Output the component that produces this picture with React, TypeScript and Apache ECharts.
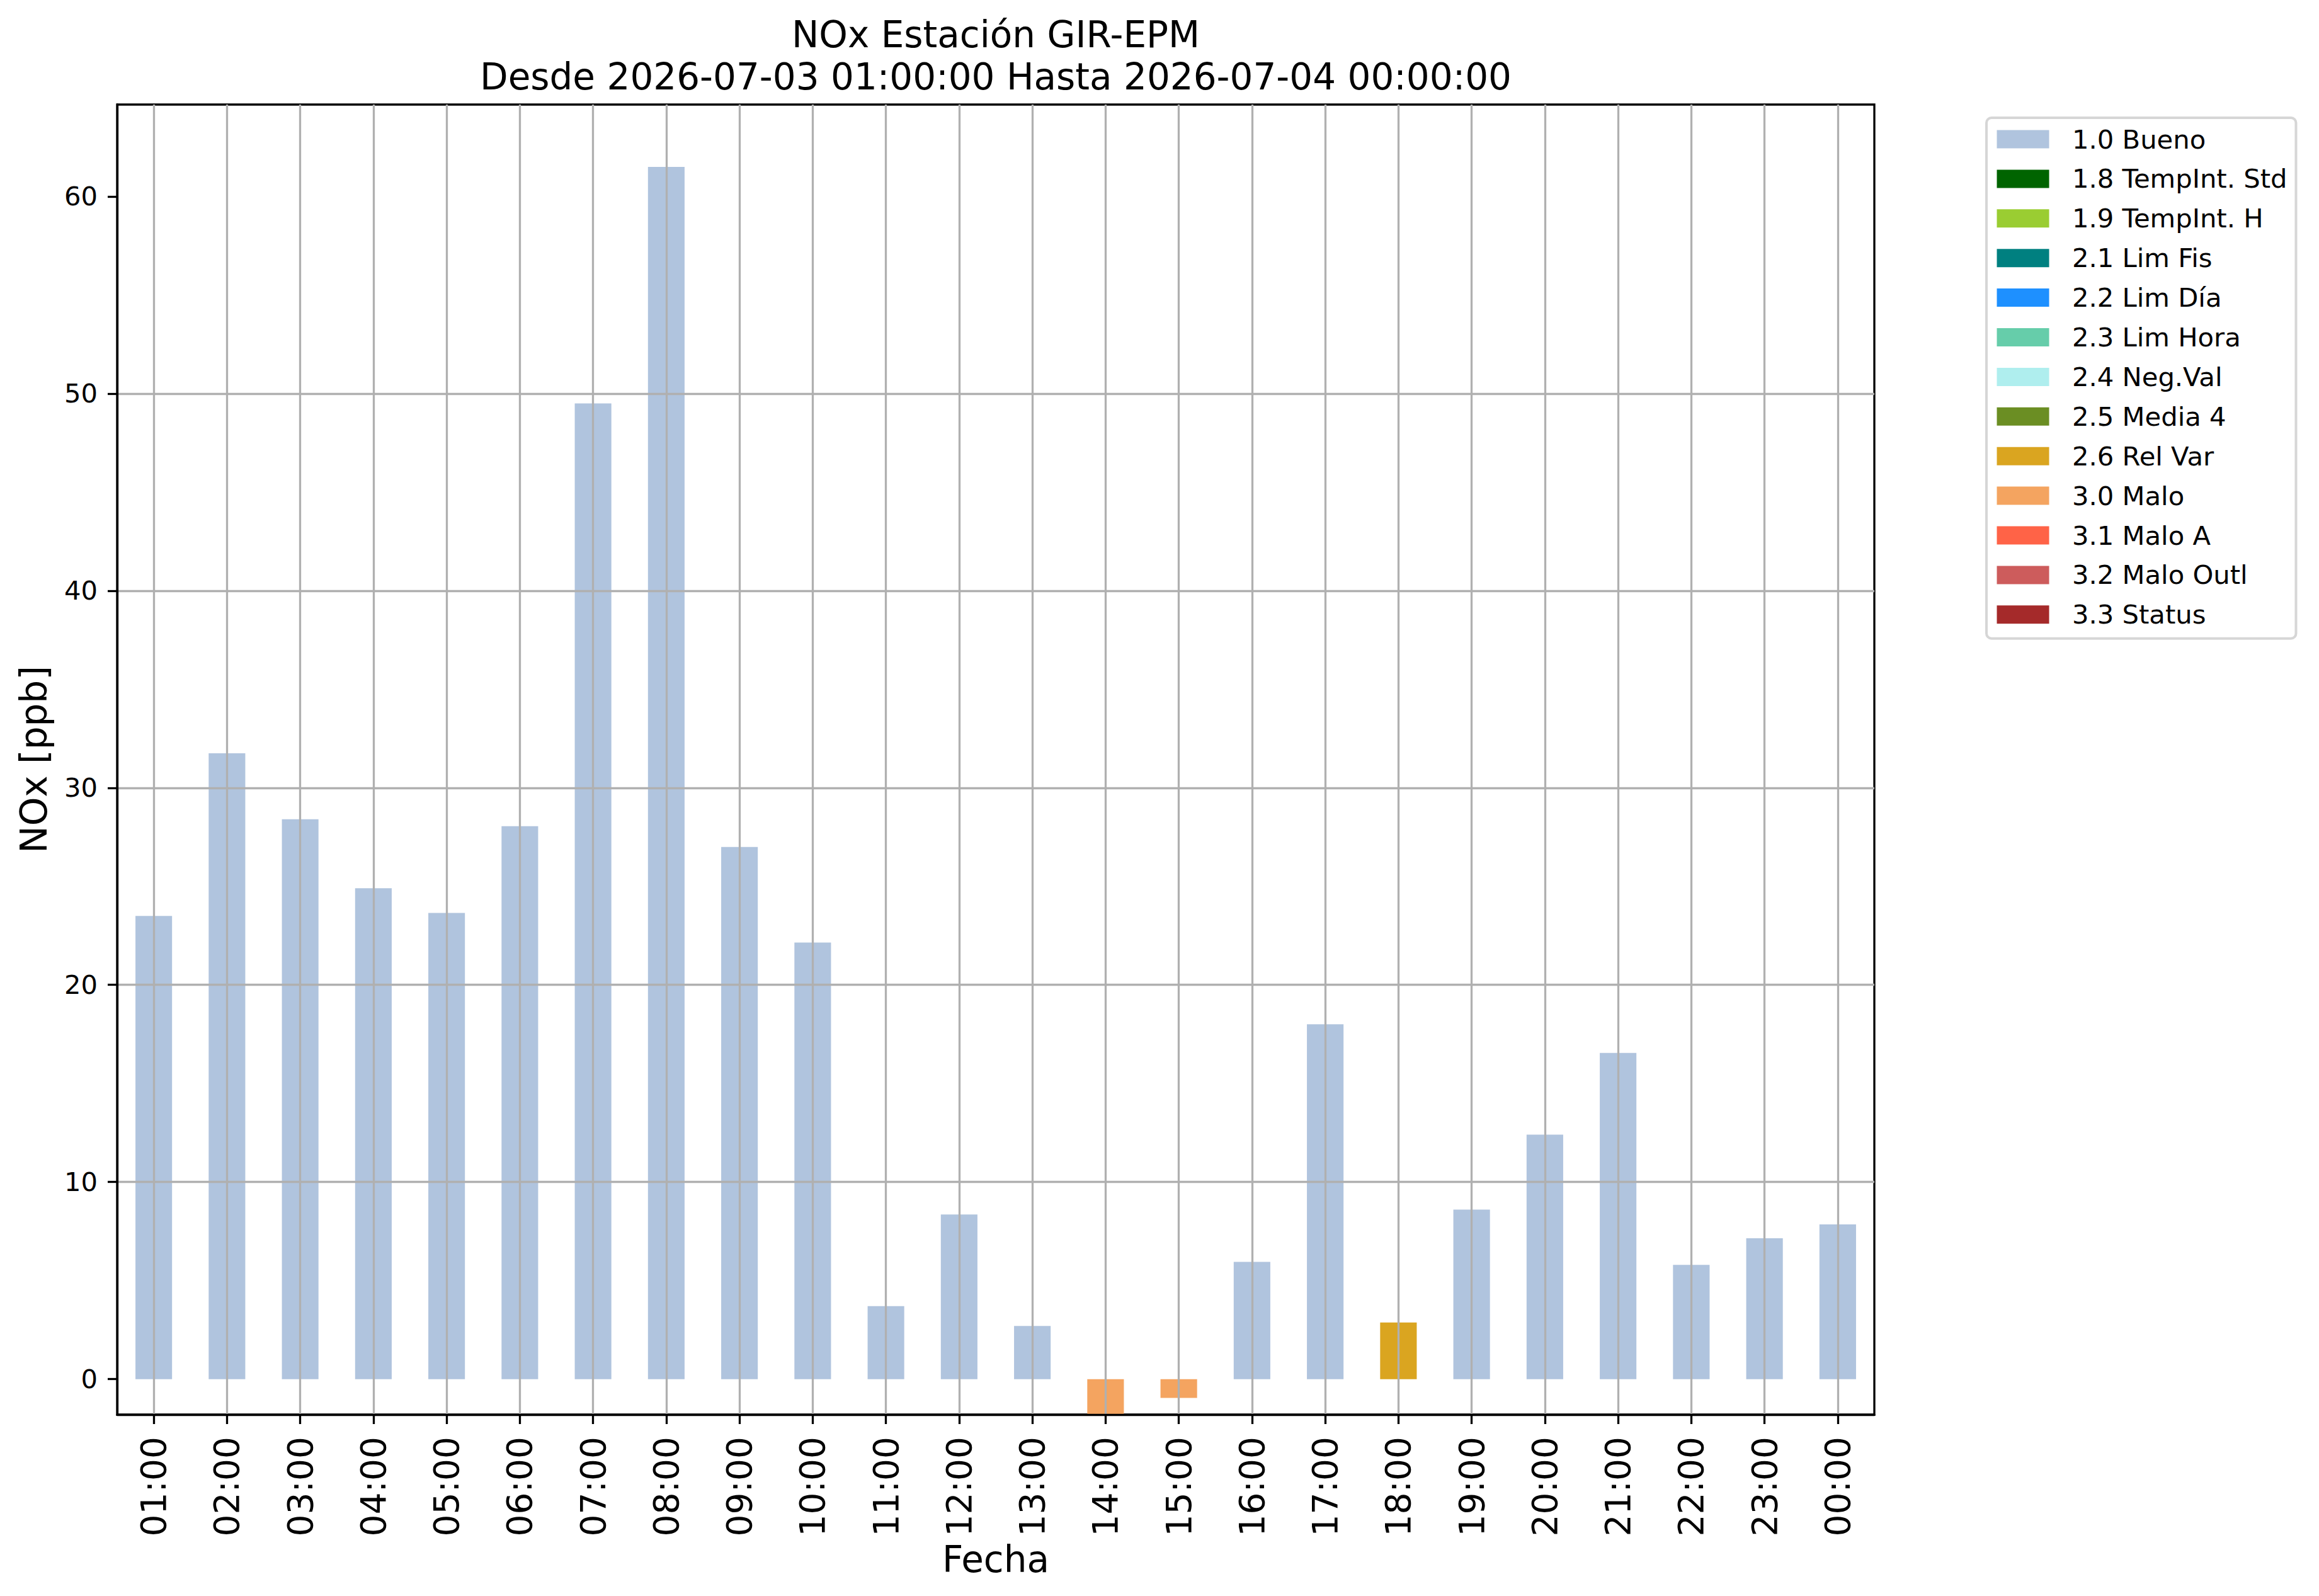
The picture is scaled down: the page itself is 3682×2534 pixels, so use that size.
import { useEffect, useRef } from 'react';
import * as echarts from 'echarts';

const categories = [
  '01:00', '02:00', '03:00', '04:00', '05:00', '06:00', '07:00', '08:00',
  '09:00', '10:00', '11:00', '12:00', '13:00', '14:00', '15:00', '16:00',
  '17:00', '18:00', '19:00', '20:00', '21:00', '22:00', '23:00', '00:00',
];

const bueno = [
  23.5, 31.75, 28.4, 24.9, 23.65, 28.05, 49.5, 61.5,
  27.0, 22.15, 3.7, 8.35, 2.7, null, null, 5.95,
  18.0, null, 8.6, 12.4, 16.55, 5.8, 7.15, 7.85,
];

const relVar = [
  null, null, null, null, null, null, null, null,
  null, null, null, null, null, null, null, null,
  null, 2.87, null, null, null, null, null, null,
];

const malo = [
  null, null, null, null, null, null, null, null,
  null, null, null, null, null, -1.8, -0.95, null,
  null, null, null, null, null, null, null, null,
];

const noData = [
  null, null, null, null, null, null, null, null,
  null, null, null, null, null, null, null, null,
  null, null, null, null, null, null, null, null,
];

const flagNames = [
  '1.0 Bueno', '1.8 TempInt. Std', '1.9 TempInt. H', '2.1 Lim Fis', '2.2 Lim Día',
  '2.3 Lim Hora', '2.4 Neg.Val', '2.5 Media 4', '2.6 Rel Var', '3.0 Malo',
  '3.1 Malo A', '3.2 Malo Outl', '3.3 Status',
];

const flagColors = [
  '#B0C4DE', '#006400', '#9ACD32', '#008080', '#1E90FF',
  '#66CDAA', '#AFEEEE', '#6B8E23', '#DAA520', '#F4A460',
  '#FF6347', '#CD5C5C', '#A52A2A',
];

const flagData = [
  bueno, noData, noData, noData, noData,
  noData, noData, noData, relVar, malo,
  noData, noData, noData,
];

const yTicks = [0, 10, 20, 30, 40, 50, 60];

const titleText = 'NOx Estación GIR-EPM\nDesde 2026-07-03 01:00:00 Hasta 2026-07-04 00:00:00';

export default function App() {
  const ref = useRef<HTMLDivElement>(null);

  useEffect(() => {
    if (!ref.current) return;
    const chart = echarts.init(ref.current, null, { renderer: 'svg' });
    const gridColor = '#b0b0b0';
    const lw = 3.3;

    chart.setOption({
      animation: false,
      backgroundColor: '#ffffff',
      textStyle: { fontFamily: 'DejaVu Sans', color: '#000000' },
      title: {
        text: titleText,
        left: 1581,
        top: 21.5,
        textAlign: 'center',
        padding: 0,
        textStyle: {
          fontFamily: 'DejaVu Sans',
          fontSize: 58,
          fontWeight: 'normal',
          lineHeight: 67,
          color: '#000000',
        },
      },
      grid: {
        left: 186,
        top: 166,
        width: 2790,
        height: 2080,
        show: true,
        borderColor: '#000000',
        borderWidth: lw,
        backgroundColor: 'transparent',
        containLabel: false,
        outerBoundsMode: 'none',
      },
      legend: {
        orient: 'vertical',
        left: 3154,
        top: 187,
        data: flagNames,
        icon: 'rect',
        itemWidth: 83,
        itemHeight: 29,
        itemGap: 20.9,
        selectedMode: false,
        padding: [13, 14, 17, 16.5],
        backgroundColor: '#ffffff',
        borderColor: '#d6d6d6',
        borderWidth: 4,
        borderRadius: 8,
        textStyle: {
          fontFamily: 'DejaVu Sans',
          fontSize: 41.7,
          lineHeight: 42,
          color: '#000000',
          padding: [0, 0, 0, 31.5],
        },
      },
      xAxis: [
        {
          type: 'category',
          data: categories,
          boundaryGap: true,
          position: 'bottom',
          z: 3,
          axisLine: { show: true, onZero: false, lineStyle: { color: '#000000', width: lw } },
          axisTick: {
            show: true,
            alignWithLabel: true,
            inside: false,
            length: 15,
            lineStyle: { color: '#000000', width: lw },
          },
          axisLabel: {
            interval: 0,
            rotate: 90,
            fontSize: 55,
            margin: 35,
            color: '#000000',
            fontFamily: 'DejaVu Sans',
          },
          splitLine: { show: false },
          name: 'Fecha',
          nameLocation: 'middle',
          nameGap: 194,
          nameTextStyle: { fontSize: 58, color: '#000000', fontFamily: 'DejaVu Sans' },
        },
        {
          type: 'value',
          min: -0.5,
          max: 23.5,
          minInterval: 1,
          maxInterval: 1,
          splitNumber: 24,
          position: 'top',
          z: 3,
          axisLine: { show: false },
          axisTick: { show: false },
          axisLabel: { show: false },
          splitLine: {
            show: true,
            showMinLine: false,
            showMaxLine: false,
            lineStyle: { color: gridColor, width: lw },
          },
        },
      ],
      yAxis: {
        type: 'value',
        min: -1.8,
        max: 64.66,
        minInterval: 10,
        maxInterval: 10,
        z: 3,
        axisLine: { show: true, onZero: false, lineStyle: { color: '#000000', width: lw } },
        axisTick: {
          show: true,
          customValues: yTicks,
          length: 15,
          lineStyle: { color: '#000000', width: lw },
        },
        axisLabel: {
          customValues: yTicks,
          fontSize: 41.7,
          margin: 31,
          color: '#000000',
          fontFamily: 'DejaVu Sans',
        },
        splitLine: {
          show: true,
          showMinLine: false,
          showMaxLine: false,
          lineStyle: { color: gridColor, width: lw },
        },
        name: 'NOx [ppb]',
        nameLocation: 'middle',
        nameGap: 103,
        nameTextStyle: { fontSize: 58, color: '#000000', fontFamily: 'DejaVu Sans' },
      },
      series: flagNames.map((name, i) => ({
        type: 'bar',
        name,
        data: flagData[i],
        stack: 'flags',
        barWidth: '50%',
        xAxisIndex: 0,
        yAxisIndex: 0,
        itemStyle: { color: flagColors[i] },
        emphasis: { disabled: true },
      })),
    });

    return () => chart.dispose();
  }, []);

  return (
    <div
      ref={ref}
      style={{ position: 'fixed', left: 0, top: 0, width: 3682, height: 2534 }}
    />
  );
}
